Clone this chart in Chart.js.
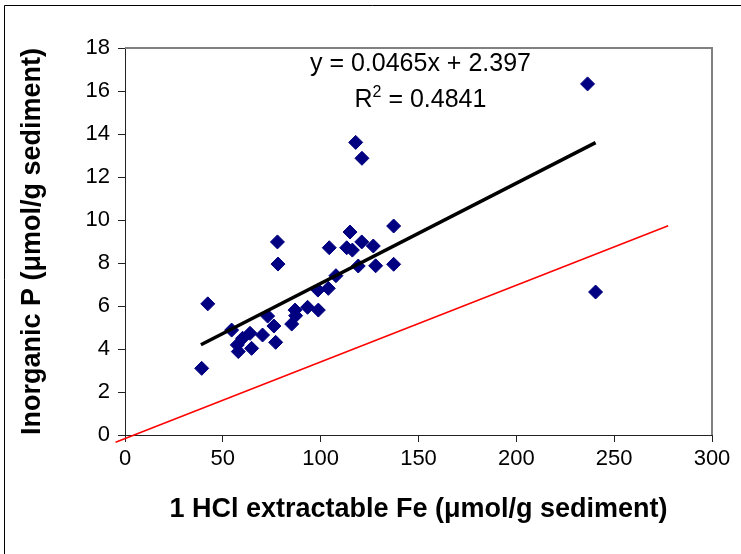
<!DOCTYPE html>
<html>
<head>
<meta charset="utf-8">
<script src="https://cdn.jsdelivr.net/npm/chart.js@4"></script>
<style>
  html, body { margin: 0; padding: 0; background: #fff; }
  #wrap { width: 741px; height: 554px; position: relative; }
</style>
</head>
<body>
<div id="wrap"><canvas id="chart" width="741" height="554"></canvas></div>
<script>
// HCl extractable Fe (x) vs inorganic P (y), umol/g sediment
const feValues = [39.2, 42.3, 54.5, 57.4, 57.9, 60.1, 63.9, 64.7, 70.3, 72.9, 76.1, 77.0,
    77.9, 78.2, 85.2, 86.9, 87.2, 93.3, 98.6, 98.8, 103.9, 104.4, 107.8, 113.3, 115.0,
    116.2, 117.9, 119.2, 121.0, 121.1, 126.9, 128.1, 137.3, 137.3, 236.4, 240.5];
const pValues = [3.1, 6.1, 4.88, 4.19, 3.88, 4.5, 4.73, 4.03, 4.65, 5.53, 5.07, 4.31,
    8.98, 7.95, 5.16, 5.81, 5.55, 5.94, 6.74, 5.81, 6.82, 8.71, 7.41, 8.71, 9.44,
    8.6, 13.61, 7.86, 8.98, 12.87, 8.79, 7.87, 9.72, 7.94, 16.33, 6.65];

// trendline endpoints and the red reference line
const trendX = [38.8, 240.5];
const trendY = [4.2, 13.6];
const refX = [-4.8, 277.6];
const refY = [-0.34, 9.73];

const xTicks = [0, 50, 100, 150, 200, 250, 300];
const yTicks = [0, 2, 4, 6, 8, 10, 12, 14, 16, 18];

const equationText = 'y = 0.0465x + 2.397';
const r2Text = '0.4841';

const FONT = '"Liberation Sans", Arial, sans-serif';

const toPoints = (xs, ys) => xs.map((x, i) => ({ x: x, y: ys[i] }));

const framePlugin = {
    id: 'frame',
    beforeDraw(chart) {
        const ctx = chart.ctx;
        ctx.save();
        ctx.fillStyle = '#fff';
        ctx.fillRect(0, 0, chart.width, chart.height);
        // outer chart frame
        ctx.strokeStyle = '#000';
        ctx.lineWidth = 1;
        ctx.beginPath();
        ctx.moveTo(4.5, chart.height);
        ctx.lineTo(4.5, 5.5);
        ctx.lineTo(chart.width, 5.5);
        ctx.stroke();
        ctx.restore();
    },
    afterDraw(chart) {
        const ctx = chart.ctx;
        const a = chart.chartArea;
        ctx.save();
        // grey plot-area border on top and right
        ctx.strokeStyle = '#808080';
        ctx.lineWidth = 2;
        ctx.beginPath();
        ctx.moveTo(a.left, a.top);
        ctx.lineTo(a.right, a.top);
        ctx.lineTo(a.right, a.bottom);
        ctx.stroke();

        // regression equation
        const xs = chart.scales.x, ys = chart.scales.y;
        const cx = xs.getPixelForValue(151);
        ctx.fillStyle = '#000';
        ctx.textBaseline = 'alphabetic';
        ctx.font = '25px ' + FONT;
        ctx.textAlign = 'center';
        ctx.fillText(equationText, cx, ys.getPixelForValue(16.95));

        const base = ys.getPixelForValue(15.25);
        ctx.textAlign = 'left';
        const wR = ctx.measureText('R').width;
        const rest = ' = ' + r2Text;
        const wRest = ctx.measureText(rest).width;
        ctx.font = '16px ' + FONT;
        const wSup = ctx.measureText('2').width;
        const start = cx - (wR + wSup + wRest) / 2;
        ctx.font = '25px ' + FONT;
        ctx.fillText('R', start, base);
        ctx.font = '16px ' + FONT;
        ctx.fillText('2', start + wR, base - 10);
        ctx.font = '25px ' + FONT;
        ctx.fillText(rest, start + wR + wSup, base);
        ctx.restore();
    }
};

new Chart(document.getElementById('chart'), {
    type: 'scatter',
    data: {
        datasets: [
            {
                type: 'line',
                data: toPoints(trendX, trendY),
                borderColor: '#000',
                borderWidth: 3.5,
                pointRadius: 0,
                fill: false
            },
            {
                type: 'line',
                data: toPoints(refX, refY),
                borderColor: '#ff0000',
                borderWidth: 1.5,
                pointRadius: 0,
                fill: false,
                clip: false
            },
            {
                data: toPoints(feValues, pValues),
                pointStyle: 'rectRot',
                pointRadius: 7,
                backgroundColor: '#000080',
                borderColor: '#000080',
                borderWidth: 1
            }
        ]
    },
    options: {
        responsive: false,
        animation: false,
        events: [],
        layout: { padding: { left: 0, right: 29, top: 48, bottom: 0 } },
        plugins: {
            legend: { display: false },
            tooltip: { enabled: false }
        },
        scales: {
            x: {
                type: 'linear',
                min: 0,
                max: 300,
                afterBuildTicks: (s) => { s.ticks = xTicks.map(v => ({ value: v })); },
                afterFit: (s) => { s.height = 119; },
                grid: { drawOnChartArea: false, drawTicks: true, tickLength: 7, color: '#222' },
                border: { display: true, color: '#222', width: 1 },
                ticks: { color: '#000', padding: 4, font: { family: FONT, size: 22 }, maxRotation: 0 },
                title: {
                    display: true,
                    text: '1 HCl extractable Fe (\u03bcmol/g sediment)',
                    color: '#000',
                    font: { family: FONT, size: 27, weight: 'bold' },
                    padding: { top: 28, bottom: 28 }
                }
            },
            y: {
                type: 'linear',
                min: 0,
                max: 18,
                afterBuildTicks: (s) => { s.ticks = yTicks.map(v => ({ value: v })); },
                afterFit: (s) => { s.width = 125; },
                grid: { drawOnChartArea: false, drawTicks: true, tickLength: 7, color: '#222' },
                border: { display: true, color: '#222', width: 1 },
                ticks: { color: '#000', padding: 8, font: { family: FONT, size: 22 } },
                title: {
                    display: true,
                    text: 'Inorganic P (\u03bcmol/g sediment)',
                    color: '#000',
                    font: { family: FONT, size: 27, weight: 'bold' },
                    padding: { top: 16, bottom: 16 }
                }
            }
        }
    },
    plugins: [framePlugin]
});
</script>
</body>
</html>
